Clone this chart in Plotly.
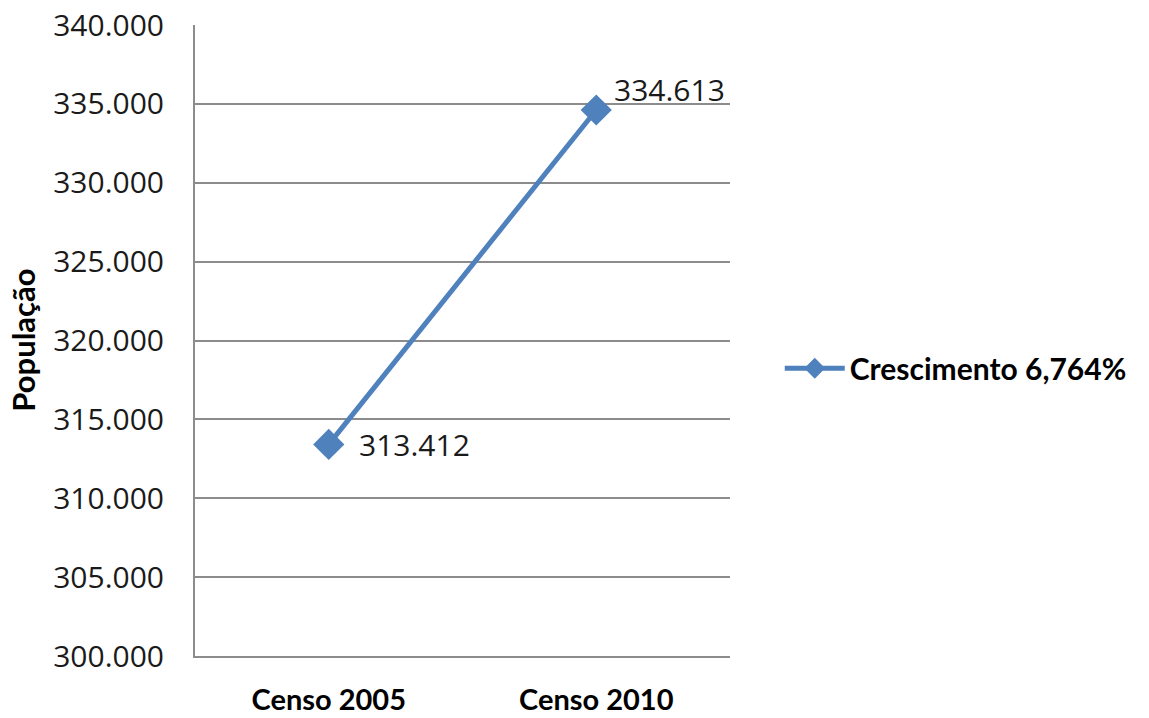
import plotly.graph_objects as go

# Population census data
categories = ["Censo 2005", "Censo 2010"]
populacao = [313412, 334613]
data_labels = ["313.412", "334.613"]
series_name = "Crescimento 6,764%"
tick_values = [300000, 305000, 310000, 315000, 320000, 325000, 330000, 335000, 340000]
tick_labels = ["300.000", "305.000", "310.000", "315.000", "320.000",
               "325.000", "330.000", "335.000", "340.000"]

line_color = "#4F81BD"
grid_color = "#8C8C8C"

fig = go.Figure()
fig.add_trace(go.Scatter(
    x=categories,
    y=populacao,
    mode="lines+markers",
    name=series_name,
    line=dict(color=line_color, width=5),
    marker=dict(symbol="diamond", size=24, color=line_color),
))

# Data labels next to each point
label_shifts = [(28, 0), (16, 20)]
for cat, val, txt, (dx, dy) in zip(categories, populacao, data_labels, label_shifts):
    fig.add_annotation(
        x=cat, y=val, text=txt, showarrow=False,
        xanchor="left", yanchor="middle", xshift=dx, yshift=dy,
        font=dict(family="Open Sans", size=30, color="#1a1a1a"),
    )

# Rotated y-axis title
fig.add_annotation(
    x=-0.323, y=0.5, xref="paper", yref="paper",
    text="<b>População</b>", textangle=-90, showarrow=False,
    xanchor="center", yanchor="middle",
    font=dict(family="Lato", size=31, color="#000000"),
)

fig.update_layout(
    width=1149, height=718,
    margin=dict(l=195, r=419, t=25, b=62),
    paper_bgcolor="white", plot_bgcolor="white",
    showlegend=True,
    legend=dict(
        x=1.093, y=0.456, xanchor="left", yanchor="middle",
        font=dict(family="Lato", size=30, color="#000000", weight="bold"),
        bgcolor="rgba(0,0,0,0)", itemwidth=60,
    ),
)

fig.update_xaxes(
    type="category", range=[-0.5, 1.5], automargin=False,
    showline=True, linecolor=grid_color, linewidth=2,
    showgrid=False, ticks="",
    tickfont=dict(family="Lato", size=29, color="#000000", weight="bold"),
    ticklabelstandoff=17,
    fixedrange=True,
)
fig.update_yaxes(
    range=[300000, 340000], automargin=False,
    tickvals=tick_values, ticktext=tick_labels,
    showline=True, linecolor=grid_color, linewidth=2,
    showgrid=True, gridcolor=grid_color, gridwidth=1.5,
    zeroline=False, ticks="",
    tickfont=dict(family="Open Sans", size=30, color="#1a1a1a"),
    ticklabelstandoff=23,
    fixedrange=True,
)

fig.write_html("out.html")
